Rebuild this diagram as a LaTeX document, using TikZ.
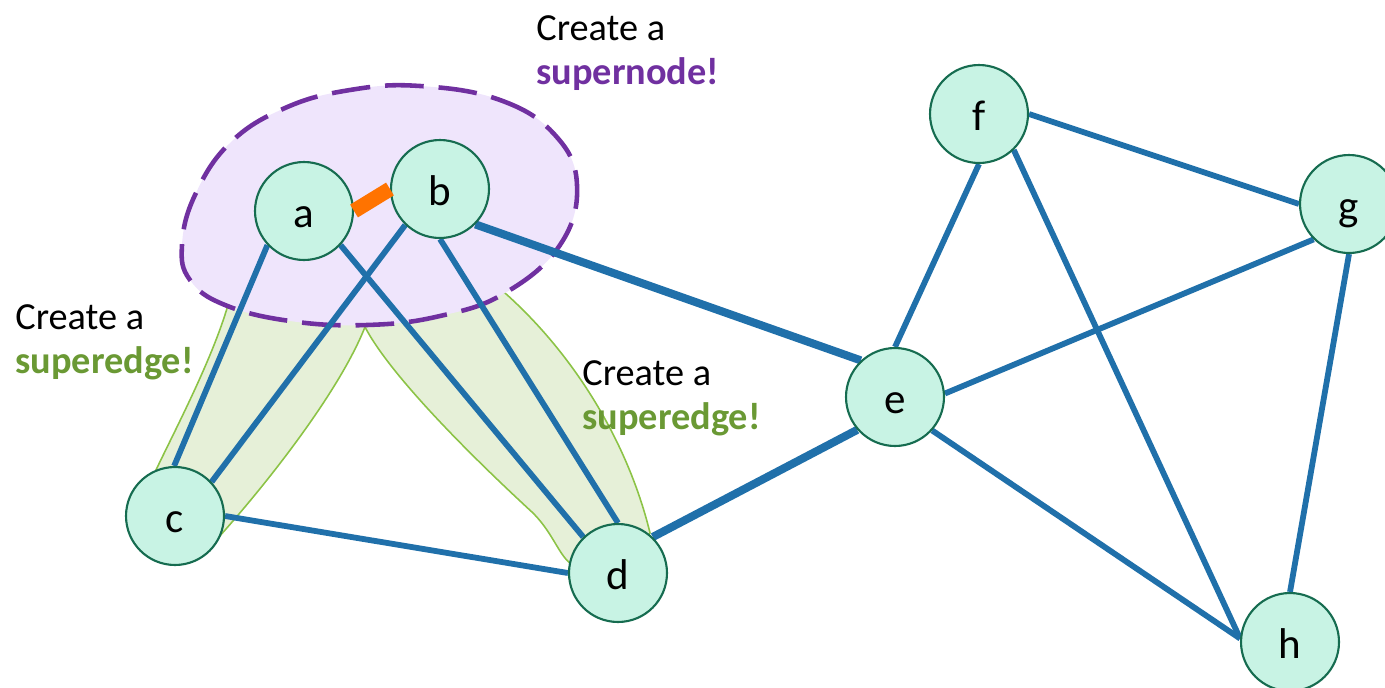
\documentclass[tikz,border=0pt]{standalone}
\usepackage{fontspec}
\setmainfont{Carlito}
\usetikzlibrary{backgrounds}
\definecolor{nodeline}{RGB}{22,108,80}
\definecolor{nodefill}{RGB}{200,243,228}
\definecolor{edgeblue}{RGB}{32,112,170}
\definecolor{snpurple}{RGB}{112,48,160}
\definecolor{snfill}{RGB}{239,229,252}
\definecolor{segreen}{RGB}{140,195,70}
\definecolor{sefill}{RGB}{230,240,216}
\definecolor{setext}{RGB}{106,153,52}
\definecolor{abedge}{RGB}{255,115,0}
\pgfdeclarelayer{back}
\pgfdeclarelayer{mid}
\pgfsetlayers{back,mid,main}
\tikzset{
  vtx/.style={circle, draw=nodeline, fill=nodefill, line width=1.2pt,
    minimum size=1.96cm, inner sep=0pt, font=\fontsize{24.5}{24.5}\selectfont,
    text height=19pt, text depth=0pt},
  gedge/.style={draw=edgeblue, line width=3.3pt},
  heavyedge/.style={draw=edgeblue, line width=4.6pt},
  mergeedge/.style={draw=abedge, line width=8.5pt},
  supernodeshape/.style={draw=snpurple, fill=snfill, line width=2.6pt,
    dash pattern=on 22pt off 8.5pt},
  superedgeshape/.style={draw=segreen, fill=sefill, line width=0.9pt},
  lbl/.style={anchor=base west, inner sep=0pt, font=\fontsize{21.8}{26}\selectfont},
  lblsn/.style={lbl, text=snpurple, font=\fontsize{21.8}{26}\selectfont\bfseries},
  lblse/.style={lbl, text=setext, font=\fontsize{21.8}{26}\selectfont\bfseries}
}
\begin{document}
\begin{tikzpicture}[x=0.02cm, y=-0.02cm]
\useasboundingbox (0,0) rectangle (1385,687);

% nodes
\node[vtx] (a) at (304,211) {a};
\node[vtx] (b) at (440,189) {b};
\node[vtx] (c) at (175,516) {c};
\node[vtx] (d) at (618,573) {d};
\node[vtx] (e) at (895,397) {e};
\node[vtx] (f) at (979,114) {f};
\node[vtx] (g) at (1349,204) {g};
\node[vtx] (h) at (1290,642) {h};

% superedges and supernode
\begin{pgfonlayer}{back}
  \path[superedgeshape] (245,275) -- (228,305)
    .. controls (212,360) and (175,430) .. (156,470)
    -- (c.center) -- (218,538)
    .. controls (270,480) and (340,390) .. (365,327)
    -- (340,285) -- cycle;
  \path[superedgeshape] (365,327)
    .. controls (390,375) and (470,455) .. (533,513)
    .. controls (555,535) and (560,560) .. (575,566)
    -- (d.center) -- (650,533)
    .. controls (630,450) and (580,360) .. (505,293)
    -- (430,285) -- cycle;
  \draw[supernodeshape] plot[smooth cycle, tension=0.7] coordinates {
    (420,86) (500,100) (555,135) (577,185) (560,245) (505,293) (440,316)
    (367,325) (290,321) (225,305) (190,280) (182,245) (195,195) (230,143)
    (285,108) (350,90)};
\end{pgfonlayer}

% edges
\begin{pgfonlayer}{mid}
  \draw[gedge] (a.223) -- (c.91);
  \draw[gedge] (a.317) -- (d.134);
  \draw[gedge] (b.226) -- (c.43);
  \draw[gedge] (b.south) -- (d.north);
  \draw[heavyedge] (b.315) -- (e.133);
  \draw[gedge] (c.east) -- (d.west);
  \draw[heavyedge] (d.46) -- (e.221);
  \draw[gedge] (e.north) -- (f.south);
  \draw[gedge] (e.4) -- (g.225);
  \draw[gedge] (e.318) -- (h.176);
  \draw[gedge] (f.east) -- (g.west);
  \draw[gedge] (f.314) -- (h.176);
  \draw[gedge] (g.south) -- (h.north);
\end{pgfonlayer}
\draw[mergeedge] (a.east) -- (b.west);

% labels
\node[lbl] (t1) at (536,40) {Create a};
\node[lblsn] (t2) at (536,84) {supernode!};
\node[lbl] (t3) at (15,329) {Create a};
\node[lblse] (t4) at (15,373) {superedge!};
\node[lbl] (t5) at (582,385) {Create a};
\node[lblse] (t6) at (582,429) {superedge!};
\end{tikzpicture}
\end{document}
